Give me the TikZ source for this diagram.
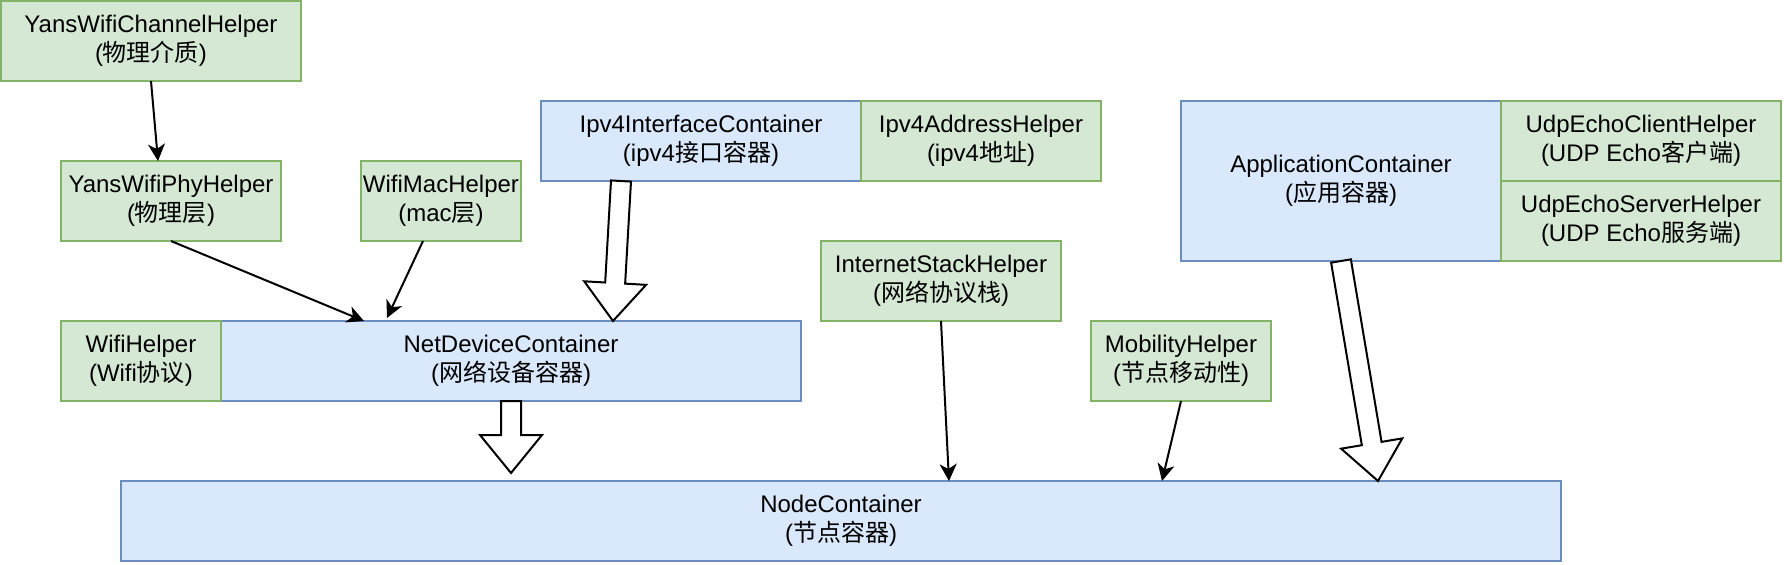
\documentclass[tikz,border=0pt]{standalone}
\usepackage{fontspec}
\setmainfont{Liberation Sans}
\newfontfamily\cjkf{Noto Sans CJK SC}
\newcommand\zh[1]{{\cjkf #1}}
\usetikzlibrary{arrows.meta,calc}
\definecolor{gfill}{HTML}{D5E8D4}
\definecolor{gline}{HTML}{82B366}
\definecolor{bfill}{HTML}{DAE8FC}
\definecolor{bline}{HTML}{6C8EBF}
\newcommand\flexarr[2]{%
  \coordinate (fh) at ($(#2)!19pt!(#1)$);
  \draw[flexarrow] ($(#1)!5pt!90:(#2)$) -- ($(fh)!5pt!90:(#2)$) -- ($(fh)!15.5pt!90:(#2)$) -- (#2)
    -- ($(fh)!15.5pt!-90:(#2)$) -- ($(fh)!5pt!-90:(#2)$) -- ($(#1)!5pt!-90:(#2)$) -- cycle;}
\begin{document}
\begin{tikzpicture}[x=0.5pt,y=-0.5pt,
  box/.style={draw, line width=1pt, inner sep=0pt, outer sep=0pt, align=center,
              font=\fontsize{12}{14.4}\selectfont},
  gbox/.style={box, draw=gline, fill=gfill},
  bbox/.style={box, draw=bline, fill=bfill},
  thinarrow/.style={line width=1pt, -{Stealth[length=8.5pt,width=8.5pt,inset=2.5pt]}},
  flexarrow/.style={draw=black, fill=white, line width=1pt, line join=miter}]
\useasboundingbox (0,0) rectangle (1784,564);
% blue boxes
\node[bbox, minimum width=160pt, minimum height=40pt] (ipv4) at (701,141) {Ipv4InterfaceContainer\\(ipv4\zh{接口容器})};
\node[bbox, minimum width=160pt, minimum height=80pt] (app) at (1341,181) {ApplicationContainer\\(\zh{应用容器})};
\node[bbox, minimum width=290pt, minimum height=40pt] (netdev) at (511,361) {NetDeviceContainer\\(\zh{网络设备容器})};
\node[bbox, minimum width=720pt, minimum height=40pt] (node) at (841,521) {NodeContainer\\(\zh{节点容器})};
% green boxes
\node[gbox, minimum width=150pt, minimum height=40pt] (chan) at (151,41) {YansWifiChannelHelper\\(\zh{物理介质})};
\node[gbox, minimum width=110pt, minimum height=40pt] (phy) at (171,201) {YansWifiPhyHelper\\(\zh{物理层})};
\node[gbox, minimum width=80pt, minimum height=40pt] (mac) at (441,201) {WifiMacHelper\\(mac\zh{层})};
\node[gbox, minimum width=120pt, minimum height=40pt] (addr) at (981,141) {Ipv4AddressHelper\\(ipv4\zh{地址})};
\node[gbox, minimum width=140pt, minimum height=40pt] (client) at (1641,141) {UdpEchoClientHelper\\(UDP Echo\zh{客户端})};
\node[gbox, minimum width=140pt, minimum height=40pt] (server) at (1641,221) {UdpEchoServerHelper\\(UDP Echo\zh{服务端})};
\node[gbox, minimum width=120pt, minimum height=40pt] (inet) at (941,281) {InternetStackHelper\\(\zh{网络协议栈})};
\node[gbox, minimum width=80pt, minimum height=40pt] (wifi) at (141,361) {WifiHelper\\(Wifi\zh{协议})};
\node[gbox, minimum width=90pt, minimum height=40pt] (mob) at (1181,361) {MobilityHelper\\(\zh{节点移动性})};
% thin arrows
\draw[thinarrow] (chan.south) -- ([xshift=-6.5pt]phy.north);
\draw[thinarrow] (phy.south) -- ([xshift=-73.5pt]netdev.north);
\draw[thinarrow] ([xshift=-9pt]mac.south) -- ([xshift=-62pt,yshift=1.5pt]netdev.north);
\draw[thinarrow] (inet.south) -- ([xshift=54pt]node.north);
\draw[thinarrow] (mob.south) -- ([xshift=160.5pt]node.north);
% flex arrows
\coordinate (f1a) at ([xshift=-40pt]ipv4.south);
\coordinate (f1b) at ([xshift=51pt]netdev.north);
\coordinate (f2a) at (netdev.south);
\coordinate (f2b) at ([yshift=-36pt]netdev.south);
\coordinate (f3a) at (app.south);
\coordinate (f3b) at ([xshift=268.5pt]node.north);
\flexarr{f1a}{f1b}
\flexarr{f2a}{f2b}
\flexarr{f3a}{f3b}
\end{tikzpicture}
\end{document}
